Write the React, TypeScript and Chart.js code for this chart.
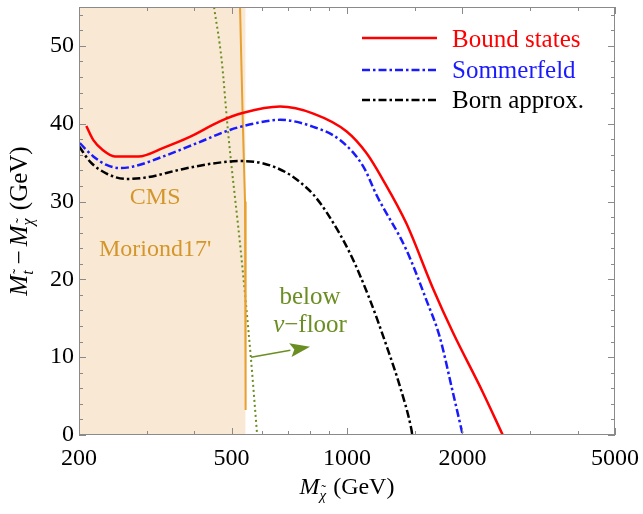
import React, { useEffect, useRef } from 'react';
import { Chart, registerables } from 'chart.js';

Chart.register(...registerables);

// ---------------- data ----------------
const boundX = [209, 218, 231, 248, 286, 332, 389, 466, 537, 669, 817, 998, 1125, 1241, 1428, 1677, 1888, 2260, 2548];
const boundY = [39.7, 37.9, 36.6, 35.8, 35.8, 36.9, 38.3, 40.3, 41.4, 42.2, 41.3, 39.0, 36.2, 32.8, 27.2, 18.8, 13.2, 5.5, 0];

const sommX = [201, 218, 236, 256, 277, 332, 406, 495, 582, 669, 817, 959, 1103, 1195, 1428, 1609, 1743, 1888, 2004];
const sommY = [37.5, 35.8, 34.7, 34.3, 34.5, 35.8, 37.5, 39.2, 40.1, 40.5, 39.6, 37.9, 34.5, 30.8, 23.8, 17.4, 12.7, 5.5, 0];

const bornX = [200, 214, 236, 266, 300, 367, 448, 526, 605, 696, 754, 817, 885, 1017, 1147, 1267, 1373, 1471, 1480];
const bornY = [37.1, 35.1, 33.6, 32.9, 33.1, 34.1, 34.9, 35.2, 34.9, 33.7, 32.5, 30.9, 28.6, 23.4, 17.4, 11.5, 6.3, 0.8, 0];

const floorX = [450, 471, 489, 498, 528, 561, 583];
const floorY = [55, 48.2, 39.2, 35.3, 23.8, 10.1, 0];

const cmsX = [526, 535, 542, 544];
const cmsY = [55, 40, 30, 3.2];

const cmsRegionX = [200, 544];
const cmsRegionY = [55, 55];

const arrowFrom = [562, 10.0];
const arrowTo = [801, 11.35];

const seriesLabels = ['Bound states', 'Sommerfeld', 'Born approx.'];

const xTickValues = [200, 500, 1000, 2000, 5000];
const xMinorTicks = [300, 400, 600, 700, 800, 900, 1500, 3000, 4000];
const yTickValues = [0, 10, 20, 30, 40, 50];
const yMinorTicks = [2, 4, 6, 8, 12, 14, 16, 18, 22, 24, 26, 28, 32, 34, 36, 38, 42, 44, 46, 48, 52, 54];

const cmsLabels = [
  { text: 'CMS', x: 316, y: 30.7 },
  { text: "Moriond17'", x: 316, y: 24.0 },
];
const floorLabel1 = { text: 'below', x: 801, y: 17.8 };
const floorLabel2 = { nu: 'ν', rest: '−floor', x: 801, y: 14.3 };

// ---------------- styles ----------------
const FONT = '"Liberation Serif", "DejaVu Serif", serif';
const FS = 24;
const RED = '#ff0000';
const BLUE = '#1a1aff';
const BLACK = '#000000';
const GREEN = '#6b8e23';
const ORANGE_LINE = '#e8a030';
const ORANGE_TEXT = '#d4962a';
const FILL = '#f8e8d4';
const FRAME = '#8a8a8a';

const pts = (xs: number[], ys: number[]) => xs.map((x, i) => ({ x, y: ys[i] }));

function drawSubscripted(ctx: CanvasRenderingContext2D, parts: any[], cx: number, cy: number, fs: number) {
  const subFont = `italic ${Math.round(fs * 0.64)}px ${FONT}`;
  const fontOf = (p: any) => (p.sub ? subFont : p.italic ? `italic ${fs}px ${FONT}` : `${fs}px ${FONT}`);
  const widths = parts.map((p) => {
    ctx.font = fontOf(p);
    return ctx.measureText(p.t).width + (p.padL || 0) + (p.padR || 0);
  });
  const total = widths.reduce((a, b) => a + b, 0);
  let x = cx - total / 2;
  ctx.textBaseline = 'alphabetic';
  ctx.textAlign = 'left';
  parts.forEach((p, i) => {
    ctx.font = fontOf(p);
    const xx = x + (p.padL || 0);
    if (p.sub) {
      ctx.fillText(p.t, xx, cy + 6);
      const w = ctx.measureText(p.t).width;
      ctx.font = `${Math.round(fs * 0.64)}px ${FONT}`;
      const tw = ctx.measureText('˜').width;
      ctx.fillText('˜', xx + w / 2 - tw / 2 + 1, cy + 6 - p.th);
    } else {
      ctx.fillText(p.t, xx, cy);
    }
    x += widths[i];
  });
}

const decorPlugin = {
  id: 'decor',
  afterDatasetsDraw(chart: any) {
    const { ctx, chartArea: a, scales } = chart;
    const xs = scales.x;
    const ys = scales.y;
    ctx.save();

    // frame
    ctx.strokeStyle = FRAME;
    ctx.lineWidth = 1;
    ctx.strokeRect(a.left + 0.5, a.top + 0.5, a.right - a.left - 1, a.bottom - a.top - 1);

    // ticks (inside)
    ctx.beginPath();
    const xt = (v: number, len: number) => {
      const p = Math.round(xs.getPixelForValue(v)) + 0.5;
      ctx.moveTo(p, a.bottom);
      ctx.lineTo(p, a.bottom - len);
      ctx.moveTo(p, a.top);
      ctx.lineTo(p, a.top + len);
    };
    const yt = (v: number, len: number) => {
      const p = Math.round(ys.getPixelForValue(v)) + 0.5;
      ctx.moveTo(a.left, p);
      ctx.lineTo(a.left + len, p);
      ctx.moveTo(a.right, p);
      ctx.lineTo(a.right - len, p);
    };
    xTickValues.forEach((v) => xt(v, 7));
    xMinorTicks.forEach((v) => xt(v, 4));
    yTickValues.forEach((v) => yt(v, 7));
    yMinorTicks.forEach((v) => yt(v, 4));
    ctx.stroke();

    // annotations
    ctx.textAlign = 'center';
    ctx.textBaseline = 'alphabetic';
    ctx.font = `${FS}px ${FONT}`;
    ctx.fillStyle = ORANGE_TEXT;
    cmsLabels.forEach((l) => {
      ctx.fillText(l.text, xs.getPixelForValue(l.x), ys.getPixelForValue(l.y) + 8);
    });
    ctx.fillStyle = GREEN;
    ctx.font = `${FS + 1}px ${FONT}`;
    ctx.fillText(floorLabel1.text, xs.getPixelForValue(floorLabel1.x), ys.getPixelForValue(floorLabel1.y) + 8);
    {
      ctx.font = `italic ${FS + 1}px ${FONT}`;
      const wn = ctx.measureText(floorLabel2.nu).width;
      ctx.font = `${FS + 1}px ${FONT}`;
      const wr = ctx.measureText(floorLabel2.rest).width;
      const cx = xs.getPixelForValue(floorLabel2.x);
      const by = ys.getPixelForValue(floorLabel2.y) + 8;
      const x0 = cx - (wn + wr) / 2;
      ctx.textAlign = 'left';
      ctx.font = `italic ${FS + 1}px ${FONT}`;
      ctx.fillText(floorLabel2.nu, x0, by);
      ctx.font = `${FS + 1}px ${FONT}`;
      ctx.fillText(floorLabel2.rest, x0 + wn, by);
    }

    // arrow
    const x1 = xs.getPixelForValue(arrowFrom[0]);
    const y1 = ys.getPixelForValue(arrowFrom[1]);
    const x2 = xs.getPixelForValue(arrowTo[0]);
    const y2 = ys.getPixelForValue(arrowTo[1]);
    const ang = Math.atan2(y2 - y1, x2 - x1);
    const hl = 20, hw = 7;
    const bx = x2 - hl * Math.cos(ang);
    const by = y2 - hl * Math.sin(ang);
    ctx.strokeStyle = GREEN;
    ctx.fillStyle = GREEN;
    ctx.lineWidth = 1.6;
    ctx.beginPath();
    ctx.moveTo(x1, y1);
    ctx.lineTo(bx, by);
    ctx.stroke();
    ctx.beginPath();
    ctx.moveTo(x2, y2);
    ctx.lineTo(bx + hw * Math.sin(ang), by - hw * Math.cos(ang));
    ctx.lineTo(bx + 4 * Math.cos(ang), by + 4 * Math.sin(ang));
    ctx.lineTo(bx - hw * Math.sin(ang), by + hw * Math.cos(ang));
    ctx.closePath();
    ctx.fill();

    // legend
    const ds = chart.data.datasets;
    const legendY = [38, 70, 100];
    const textY = [47, 78, 108];
    for (let i = 0; i < 3; i++) {
      const d = ds[i];
      ctx.strokeStyle = d.borderColor;
      ctx.lineWidth = d.borderWidth;
      ctx.setLineDash(d.borderDash || []);
      ctx.beginPath();
      ctx.moveTo(362, legendY[i]);
      ctx.lineTo(437, legendY[i]);
      ctx.stroke();
      ctx.setLineDash([]);
      ctx.fillStyle = d.borderColor;
      ctx.font = `25px ${FONT}`;
      ctx.textAlign = 'left';
      ctx.fillText(d.label, 452, textY[i]);
    }

    ctx.restore();

    // axis titles
    ctx.save();
    ctx.fillStyle = '#000';
    drawSubscripted(
      ctx,
      [{ t: 'M', italic: true }, { t: 'χ', sub: true, th: 5, padR: 1 }, { t: ' (GeV)' }],
      (a.left + a.right) / 2,
      494,
      FS
    );
    ctx.translate(27, (a.top + a.bottom) / 2);
    ctx.rotate(-Math.PI / 2);
    drawSubscripted(
      ctx,
      [
        { t: 'M', italic: true },
        { t: 't', sub: true, th: 9, padR: 2 },
        { t: '−', padL: 4, padR: 4 },
        { t: 'M', italic: true },
        { t: 'χ', sub: true, th: 6, padR: 2 },
        { t: ' (GeV)' },
      ],
      0,
      0,
      25
    );
    ctx.restore();
  },
};

export default function App() {
  const ref = useRef<HTMLCanvasElement>(null);
  useEffect(() => {
    if (!ref.current) return;
    const tickFont = { family: FONT, size: FS };
    const curve = { pointRadius: 0, cubicInterpolationMode: 'monotone', fill: false, borderWidth: 2.5 };
    const chart = new Chart(ref.current, {
      type: 'line',
      data: {
        datasets: [
          { ...curve, label: seriesLabels[0], data: pts(boundX, boundY), borderColor: RED },
          { ...curve, label: seriesLabels[1], data: pts(sommX, sommY), borderColor: BLUE, borderDash: [8, 3, 2.5, 3] },
          { ...curve, label: seriesLabels[2], data: pts(bornX, bornY), borderColor: BLACK, borderDash: [8, 3, 2.5, 3] },
          {
            label: 'CMS line',
            data: pts(cmsX, cmsY),
            borderColor: ORANGE_LINE,
            borderWidth: 2,
            pointRadius: 0,
            fill: false,
          },
          {
            label: 'floor',
            data: pts(floorX, floorY),
            borderColor: GREEN,
            borderWidth: 2,
            borderDash: [2, 3],
            pointRadius: 0,
            cubicInterpolationMode: 'monotone',
            fill: false,
          },
          {
            label: 'CMS region',
            data: pts(cmsRegionX, cmsRegionY),
            borderWidth: 0,
            borderColor: 'rgba(0,0,0,0)',
            backgroundColor: FILL,
            pointRadius: 0,
            fill: 'origin',
          },
        ],
      },
      options: {
        animation: false,
        responsive: false,
        maintainAspectRatio: false,
        layout: { padding: { top: 7, right: 28, bottom: 0, left: 0 } },
        plugins: { legend: { display: false }, tooltip: { enabled: false } },
        scales: {
          x: {
            type: 'logarithmic',
            min: 200,
            max: 5000,
            afterBuildTicks: (s: any) => {
              s.ticks = xTickValues.map((v) => ({ value: v }));
            },
            afterFit: (s: any) => {
              s.height = 79;
              s.paddingLeft = 0;
              s.paddingRight = 0;
            },
            grid: { display: false, drawTicks: false },
            border: { display: false },
            ticks: {
              font: tickFont,
              color: '#000',
              padding: 9,
              maxRotation: 0,
              autoSkip: false,
              callback: (v: any) => String(v),
            },
          },
          y: {
            type: 'linear',
            min: 0,
            max: 55,
            afterBuildTicks: (s: any) => {
              s.ticks = yTickValues.map((v) => ({ value: v }));
            },
            afterFit: (s: any) => {
              s.width = 79;
              s.paddingTop = 0;
              s.paddingBottom = 0;
            },
            grid: { display: false, drawTicks: false },
            border: { display: false },
            ticks: {
              font: tickFont,
              color: '#000',
              padding: 5,
              callback: (v: any) => String(v),
            },
          },
        },
      },
      plugins: [decorPlugin],
    } as any);
    return () => chart.destroy();
  }, []);
  return (
    <div style={{ position: 'fixed', left: 0, top: 0, width: 643, height: 514, background: '#fff' }}>
      <canvas ref={ref} width={643} height={514} style={{ display: 'block', width: 643, height: 514 }} />
    </div>
  );
}
